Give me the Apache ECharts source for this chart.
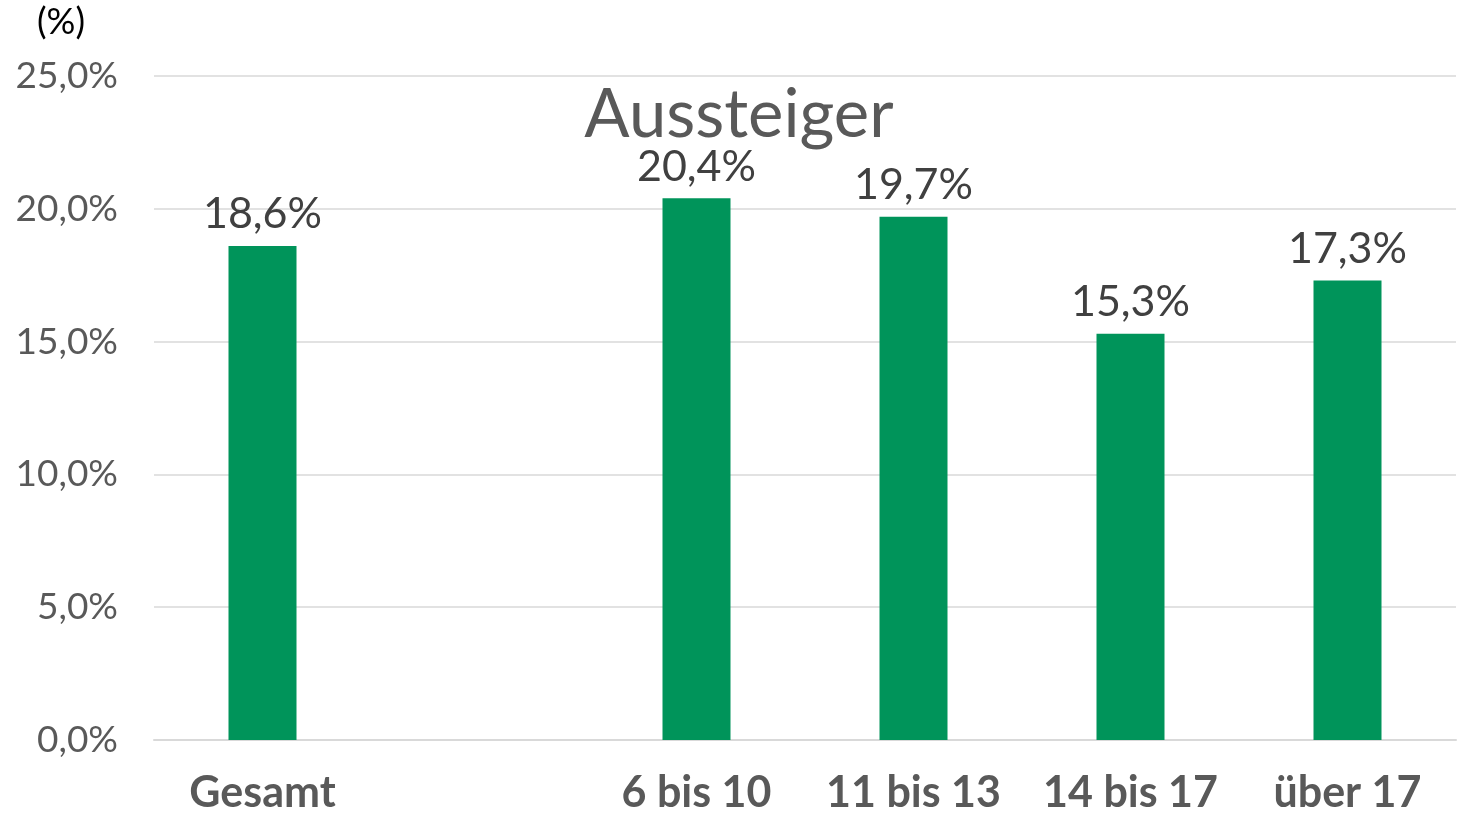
<!DOCTYPE html>
<html>
<head>
<meta charset="utf-8">
<script src="https://cdn.jsdelivr.net/npm/echarts@6/dist/echarts.min.js"></script>
<style>
  html, body { margin: 0; padding: 0; background: #fff; }
  #chart { width: 1466px; height: 815px; }
</style>
</head>
<body>
<div id="chart"></div>
<script>
// Kategorien (zweite Position bleibt leer)
const categories = ['Gesamt', '', '6 bis 10', '11 bis 13', '14 bis 17', 'über 17']
const values = [18.6, '-', 20.4, 19.7, 15.3, 17.3]
const yTicks = [0, 5, 10, 15, 20, 25]

const myChart = echarts.init(document.getElementById('chart'))
const fmt = v => v.toFixed(1).replace('.', ',') + '%'

const option = {
  animation: false,
  textStyle: { fontFamily: 'Lato' },
  title: {
    text: 'Aussteiger',
    left: 734,
    top: 77,
    textAlign: 'center',
    textStyle: { fontFamily: 'Lato', fontSize: 67, fontWeight: 'normal', color: '#595959' }
  },
  graphic: [
    {
      type: 'text',
      left: 37,
      top: 4,
      style: { text: '(%)', font: '36px Lato', fill: '#000' }
    }
  ],
  grid: { left: 154, right: 10, top: 76, bottom: 64 },
  xAxis: {
    type: 'category',
    data: categories,
    axisLine: { lineStyle: { color: '#d9d9d9', width: 2 } },
    axisTick: { show: false },
    axisLabel: {
      interval: 0,
      margin: 32,
      color: '#595959',
      fontSize: 43,
      fontWeight: 'bold',
      fontFamily: 'Lato'
    }
  },
  yAxis: {
    type: 'value',
    min: yTicks[0],
    max: yTicks[yTicks.length - 1],
    interval: 5,
    axisLine: { show: false },
    axisTick: { show: false },
    splitLine: { lineStyle: { color: '#d9d9d9', width: 1.5 } },
    axisLabel: {
      margin: 36,
      color: '#595959',
      fontSize: 37,
      fontFamily: 'Lato',
      formatter: v => fmt(v)
    }
  },
  series: [
    {
      type: 'bar',
      data: values,
      barWidth: 68,
      itemStyle: { color: '#00945a' },
      label: {
        show: true,
        position: 'top',
        distance: 10,
        color: '#404040',
        fontSize: 43,
        fontFamily: 'Lato',
        formatter: p => fmt(p.value)
      }
    }
  ]
}
myChart.setOption(option)
window.onresize = function () {
  myChart.resize()
}
</script>
</body>
</html>
